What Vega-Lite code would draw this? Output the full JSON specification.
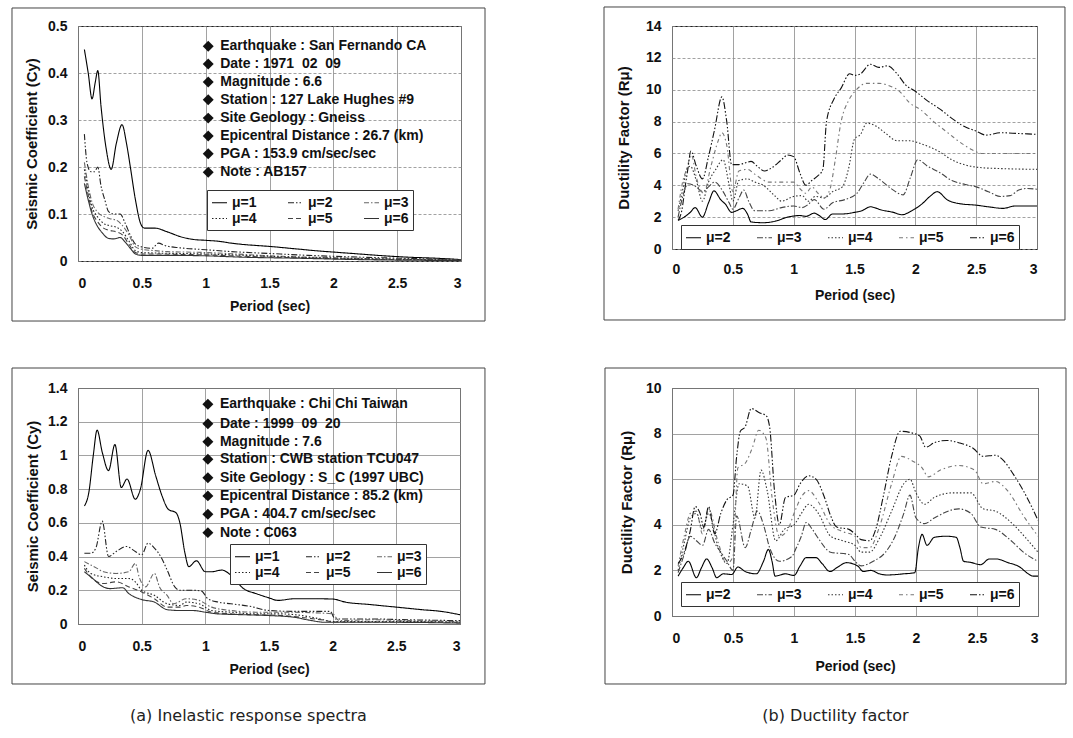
{
"$schema": "https://vega.github.io/schema/vega-lite/v6.json",
"padding": {"left": 10, "top": 5, "right": 0, "bottom": 0},
"background": "white",
"config": {
  "font": "Liberation Sans",
  "view": {"stroke": "#222", "strokeWidth": 1},
  "axis": {"domain": false, "ticks": false, "grid": true, "gridColor": "#8a8a8a", "gridWidth": 0.8, "labelOverlap": false, "tickCount": 20, "labelFont": "Liberation Sans", "labelFontWeight": "bold", "labelFontSize": 14, "labelColor": "#111", "titleFont": "Liberation Sans", "titleFontWeight": "bold", "titleColor": "#111"},
  "axisX": {"titleFontSize": 14},
  "axisY": {"titleFontSize": 15},
  "legend": {"symbolType": "stroke", "symbolSize": 225, "symbolStrokeWidth": 1.2, "labelFontSize": 14, "labelFontWeight": "bold", "labelFont": "Liberation Sans", "labelColor": "#111", "strokeColor": "#333", "fillColor": "white", "padding": 4, "rowPadding": 0, "labelOffset": 4},
  "line": {"interpolate": "monotone", "strokeWidth": 1.1}
},
"datasets": {
"p1": [
{"T":0.05,"v":0.45,"s":"μ=1"},{"T":0.08,"v":0.4,"s":"μ=1"},{"T":0.11,"v":0.345,"s":"μ=1"},{"T":0.135,"v":0.38,"s":"μ=1"},{"T":0.155,"v":0.405,"s":"μ=1"},{"T":0.18,"v":0.33,"s":"μ=1"},{"T":0.22,"v":0.24,"s":"μ=1"},{"T":0.26,"v":0.195,"s":"μ=1"},{"T":0.3,"v":0.25,"s":"μ=1"},{"T":0.345,"v":0.29,"s":"μ=1"},{"T":0.38,"v":0.25,"s":"μ=1"},{"T":0.41,"v":0.2,"s":"μ=1"},{"T":0.45,"v":0.13,"s":"μ=1"},{"T":0.49,"v":0.08,"s":"μ=1"},{"T":0.52,"v":0.07,"s":"μ=1"},{"T":0.6,"v":0.07,"s":"μ=1"},{"T":0.7,"v":0.062,"s":"μ=1"},{"T":0.8,"v":0.052,"s":"μ=1"},{"T":0.9,"v":0.046,"s":"μ=1"},{"T":1.0,"v":0.044,"s":"μ=1"},{"T":1.1,"v":0.042,"s":"μ=1"},{"T":1.2,"v":0.038,"s":"μ=1"},{"T":1.3,"v":0.035,"s":"μ=1"},{"T":1.4,"v":0.033,"s":"μ=1"},{"T":1.5,"v":0.031,"s":"μ=1"},{"T":1.7,"v":0.026,"s":"μ=1"},{"T":1.9,"v":0.021,"s":"μ=1"},{"T":2.0,"v":0.019,"s":"μ=1"},{"T":2.2,"v":0.015,"s":"μ=1"},{"T":2.4,"v":0.011,"s":"μ=1"},{"T":2.6,"v":0.008,"s":"μ=1"},{"T":2.8,"v":0.006,"s":"μ=1"},{"T":3.0,"v":0.003,"s":"μ=1"},
{"T":0.05,"v":0.27,"s":"μ=2"},{"T":0.07,"v":0.21,"s":"μ=2"},{"T":0.1,"v":0.19,"s":"μ=2"},{"T":0.13,"v":0.19,"s":"μ=2"},{"T":0.155,"v":0.2,"s":"μ=2"},{"T":0.18,"v":0.16,"s":"μ=2"},{"T":0.21,"v":0.13,"s":"μ=2"},{"T":0.24,"v":0.105,"s":"μ=2"},{"T":0.28,"v":0.1,"s":"μ=2"},{"T":0.33,"v":0.1,"s":"μ=2"},{"T":0.37,"v":0.08,"s":"μ=2"},{"T":0.41,"v":0.055,"s":"μ=2"},{"T":0.45,"v":0.036,"s":"μ=2"},{"T":0.5,"v":0.03,"s":"μ=2"},{"T":0.58,"v":0.027,"s":"μ=2"},{"T":0.63,"v":0.038,"s":"μ=2"},{"T":0.68,"v":0.033,"s":"μ=2"},{"T":0.8,"v":0.028,"s":"μ=2"},{"T":1.0,"v":0.024,"s":"μ=2"},{"T":1.2,"v":0.02,"s":"μ=2"},{"T":1.5,"v":0.016,"s":"μ=2"},{"T":1.8,"v":0.012,"s":"μ=2"},{"T":2.0,"v":0.01,"s":"μ=2"},{"T":2.5,"v":0.006,"s":"μ=2"},{"T":3.0,"v":0.003,"s":"μ=2"},
{"T":0.05,"v":0.21,"s":"μ=3"},{"T":0.08,"v":0.16,"s":"μ=3"},{"T":0.11,"v":0.125,"s":"μ=3"},{"T":0.15,"v":0.105,"s":"μ=3"},{"T":0.2,"v":0.095,"s":"μ=3"},{"T":0.25,"v":0.09,"s":"μ=3"},{"T":0.3,"v":0.087,"s":"μ=3"},{"T":0.35,"v":0.075,"s":"μ=3"},{"T":0.4,"v":0.055,"s":"μ=3"},{"T":0.45,"v":0.03,"s":"μ=3"},{"T":0.5,"v":0.025,"s":"μ=3"},{"T":0.6,"v":0.022,"s":"μ=3"},{"T":0.7,"v":0.02,"s":"μ=3"},{"T":0.85,"v":0.019,"s":"μ=3"},{"T":1.0,"v":0.018,"s":"μ=3"},{"T":1.3,"v":0.014,"s":"μ=3"},{"T":1.6,"v":0.01,"s":"μ=3"},{"T":2.0,"v":0.007,"s":"μ=3"},{"T":2.5,"v":0.004,"s":"μ=3"},{"T":3.0,"v":0.002,"s":"μ=3"},
{"T":0.05,"v":0.195,"s":"μ=4"},{"T":0.08,"v":0.15,"s":"μ=4"},{"T":0.11,"v":0.115,"s":"μ=4"},{"T":0.15,"v":0.095,"s":"μ=4"},{"T":0.2,"v":0.08,"s":"μ=4"},{"T":0.25,"v":0.075,"s":"μ=4"},{"T":0.3,"v":0.072,"s":"μ=4"},{"T":0.35,"v":0.062,"s":"μ=4"},{"T":0.4,"v":0.042,"s":"μ=4"},{"T":0.45,"v":0.022,"s":"μ=4"},{"T":0.5,"v":0.018,"s":"μ=4"},{"T":0.6,"v":0.017,"s":"μ=4"},{"T":0.8,"v":0.016,"s":"μ=4"},{"T":1.0,"v":0.015,"s":"μ=4"},{"T":1.3,"v":0.012,"s":"μ=4"},{"T":1.7,"v":0.008,"s":"μ=4"},{"T":2.2,"v":0.005,"s":"μ=4"},{"T":3.0,"v":0.002,"s":"μ=4"},
{"T":0.05,"v":0.18,"s":"μ=5"},{"T":0.08,"v":0.14,"s":"μ=5"},{"T":0.11,"v":0.105,"s":"μ=5"},{"T":0.15,"v":0.085,"s":"μ=5"},{"T":0.2,"v":0.07,"s":"μ=5"},{"T":0.25,"v":0.065,"s":"μ=5"},{"T":0.3,"v":0.062,"s":"μ=5"},{"T":0.35,"v":0.055,"s":"μ=5"},{"T":0.4,"v":0.035,"s":"μ=5"},{"T":0.45,"v":0.018,"s":"μ=5"},{"T":0.5,"v":0.015,"s":"μ=5"},{"T":0.6,"v":0.015,"s":"μ=5"},{"T":0.8,"v":0.014,"s":"μ=5"},{"T":1.0,"v":0.013,"s":"μ=5"},{"T":1.3,"v":0.01,"s":"μ=5"},{"T":1.7,"v":0.007,"s":"μ=5"},{"T":2.2,"v":0.004,"s":"μ=5"},{"T":3.0,"v":0.002,"s":"μ=5"},
{"T":0.05,"v":0.165,"s":"μ=6"},{"T":0.08,"v":0.13,"s":"μ=6"},{"T":0.11,"v":0.1,"s":"μ=6"},{"T":0.15,"v":0.075,"s":"μ=6"},{"T":0.19,"v":0.06,"s":"μ=6"},{"T":0.24,"v":0.048,"s":"μ=6"},{"T":0.28,"v":0.047,"s":"μ=6"},{"T":0.33,"v":0.05,"s":"μ=6"},{"T":0.37,"v":0.04,"s":"μ=6"},{"T":0.41,"v":0.027,"s":"μ=6"},{"T":0.45,"v":0.015,"s":"μ=6"},{"T":0.5,"v":0.012,"s":"μ=6"},{"T":0.7,"v":0.012,"s":"μ=6"},{"T":1.0,"v":0.011,"s":"μ=6"},{"T":1.3,"v":0.008,"s":"μ=6"},{"T":1.7,"v":0.006,"s":"μ=6"},{"T":2.2,"v":0.003,"s":"μ=6"},{"T":3.0,"v":0.001,"s":"μ=6"}
],
"p2": [
{"T":0.05,"v":1.8,"s":"μ=2"},{"T":0.1,"v":2.0,"s":"μ=2"},{"T":0.15,"v":2.3,"s":"μ=2"},{"T":0.19,"v":2.6,"s":"μ=2"},{"T":0.25,"v":2.0,"s":"μ=2"},{"T":0.3,"v":2.9,"s":"μ=2"},{"T":0.345,"v":3.65,"s":"μ=2"},{"T":0.4,"v":3.1,"s":"μ=2"},{"T":0.44,"v":2.8,"s":"μ=2"},{"T":0.49,"v":2.3,"s":"μ=2"},{"T":0.53,"v":2.4,"s":"μ=2"},{"T":0.58,"v":2.55,"s":"μ=2"},{"T":0.62,"v":2.2,"s":"μ=2"},{"T":0.65,"v":1.7,"s":"μ=2"},{"T":0.75,"v":1.65,"s":"μ=2"},{"T":0.85,"v":1.75,"s":"μ=2"},{"T":0.95,"v":2.0,"s":"μ=2"},{"T":1.05,"v":2.1,"s":"μ=2"},{"T":1.1,"v":2.05,"s":"μ=2"},{"T":1.17,"v":2.25,"s":"μ=2"},{"T":1.21,"v":2.1,"s":"μ=2"},{"T":1.26,"v":1.85,"s":"μ=2"},{"T":1.32,"v":2.2,"s":"μ=2"},{"T":1.4,"v":2.2,"s":"μ=2"},{"T":1.5,"v":2.3,"s":"μ=2"},{"T":1.56,"v":2.4,"s":"μ=2"},{"T":1.63,"v":2.65,"s":"μ=2"},{"T":1.72,"v":2.45,"s":"μ=2"},{"T":1.82,"v":2.3,"s":"μ=2"},{"T":1.89,"v":2.15,"s":"μ=2"},{"T":1.97,"v":2.4,"s":"μ=2"},{"T":2.05,"v":2.8,"s":"μ=2"},{"T":2.12,"v":3.3,"s":"μ=2"},{"T":2.18,"v":3.6,"s":"μ=2"},{"T":2.26,"v":3.1,"s":"μ=2"},{"T":2.36,"v":2.85,"s":"μ=2"},{"T":2.5,"v":2.75,"s":"μ=2"},{"T":2.6,"v":2.65,"s":"μ=2"},{"T":2.72,"v":2.55,"s":"μ=2"},{"T":2.82,"v":2.7,"s":"μ=2"},{"T":3.0,"v":2.7,"s":"μ=2"},
{"T":0.05,"v":2.0,"s":"μ=3"},{"T":0.1,"v":3.6,"s":"μ=3"},{"T":0.13,"v":4.1,"s":"μ=3"},{"T":0.2,"v":3.9,"s":"μ=3"},{"T":0.25,"v":3.6,"s":"μ=3"},{"T":0.3,"v":3.9,"s":"μ=3"},{"T":0.35,"v":4.2,"s":"μ=3"},{"T":0.42,"v":3.6,"s":"μ=3"},{"T":0.47,"v":2.9,"s":"μ=3"},{"T":0.5,"v":2.5,"s":"μ=3"},{"T":0.55,"v":3.2,"s":"μ=3"},{"T":0.59,"v":3.7,"s":"μ=3"},{"T":0.63,"v":3.0,"s":"μ=3"},{"T":0.68,"v":2.4,"s":"μ=3"},{"T":0.8,"v":2.4,"s":"μ=3"},{"T":0.9,"v":2.6,"s":"μ=3"},{"T":1.0,"v":2.7,"s":"μ=3"},{"T":1.07,"v":2.6,"s":"μ=3"},{"T":1.12,"v":2.8,"s":"μ=3"},{"T":1.17,"v":3.1,"s":"μ=3"},{"T":1.25,"v":2.5,"s":"μ=3"},{"T":1.32,"v":2.9,"s":"μ=3"},{"T":1.42,"v":3.1,"s":"μ=3"},{"T":1.52,"v":3.5,"s":"μ=3"},{"T":1.58,"v":4.2,"s":"μ=3"},{"T":1.63,"v":4.7,"s":"μ=3"},{"T":1.7,"v":4.4,"s":"μ=3"},{"T":1.8,"v":3.8,"s":"μ=3"},{"T":1.9,"v":3.4,"s":"μ=3"},{"T":1.96,"v":4.5,"s":"μ=3"},{"T":2.02,"v":5.6,"s":"μ=3"},{"T":2.1,"v":5.2,"s":"μ=3"},{"T":2.2,"v":4.8,"s":"μ=3"},{"T":2.3,"v":4.3,"s":"μ=3"},{"T":2.41,"v":4.05,"s":"μ=3"},{"T":2.5,"v":3.9,"s":"μ=3"},{"T":2.6,"v":3.6,"s":"μ=3"},{"T":2.7,"v":3.3,"s":"μ=3"},{"T":2.78,"v":3.35,"s":"μ=3"},{"T":2.85,"v":3.7,"s":"μ=3"},{"T":2.92,"v":3.8,"s":"μ=3"},{"T":3.0,"v":3.75,"s":"μ=3"},
{"T":0.05,"v":2.4,"s":"μ=4"},{"T":0.09,"v":3.8,"s":"μ=4"},{"T":0.12,"v":5.0,"s":"μ=4"},{"T":0.15,"v":5.2,"s":"μ=4"},{"T":0.2,"v":4.3,"s":"μ=4"},{"T":0.25,"v":3.0,"s":"μ=4"},{"T":0.3,"v":4.2,"s":"μ=4"},{"T":0.36,"v":5.0,"s":"μ=4"},{"T":0.42,"v":5.6,"s":"μ=4"},{"T":0.47,"v":4.0,"s":"μ=4"},{"T":0.5,"v":3.0,"s":"μ=4"},{"T":0.55,"v":4.3,"s":"μ=4"},{"T":0.62,"v":4.4,"s":"μ=4"},{"T":0.68,"v":4.2,"s":"μ=4"},{"T":0.75,"v":4.0,"s":"μ=4"},{"T":0.85,"v":3.3,"s":"μ=4"},{"T":0.9,"v":3.0,"s":"μ=4"},{"T":1.0,"v":3.3,"s":"μ=4"},{"T":1.07,"v":3.35,"s":"μ=4"},{"T":1.12,"v":3.0,"s":"μ=4"},{"T":1.18,"v":3.3,"s":"μ=4"},{"T":1.25,"v":3.2,"s":"μ=4"},{"T":1.32,"v":3.6,"s":"μ=4"},{"T":1.4,"v":3.9,"s":"μ=4"},{"T":1.45,"v":5.0,"s":"μ=4"},{"T":1.5,"v":6.9,"s":"μ=4"},{"T":1.55,"v":7.2,"s":"μ=4"},{"T":1.6,"v":7.9,"s":"μ=4"},{"T":1.68,"v":7.7,"s":"μ=4"},{"T":1.75,"v":7.3,"s":"μ=4"},{"T":1.85,"v":6.8,"s":"μ=4"},{"T":1.95,"v":6.8,"s":"μ=4"},{"T":2.05,"v":6.6,"s":"μ=4"},{"T":2.2,"v":6.1,"s":"μ=4"},{"T":2.3,"v":5.6,"s":"μ=4"},{"T":2.4,"v":5.3,"s":"μ=4"},{"T":2.55,"v":5.1,"s":"μ=4"},{"T":2.7,"v":5.05,"s":"μ=4"},{"T":3.0,"v":5.0,"s":"μ=4"},
{"T":0.05,"v":2.5,"s":"μ=5"},{"T":0.09,"v":4.3,"s":"μ=5"},{"T":0.12,"v":5.0,"s":"μ=5"},{"T":0.16,"v":5.9,"s":"μ=5"},{"T":0.2,"v":4.5,"s":"μ=5"},{"T":0.26,"v":3.5,"s":"μ=5"},{"T":0.32,"v":5.2,"s":"μ=5"},{"T":0.38,"v":6.8,"s":"μ=5"},{"T":0.41,"v":7.3,"s":"μ=5"},{"T":0.45,"v":6.5,"s":"μ=5"},{"T":0.5,"v":3.6,"s":"μ=5"},{"T":0.55,"v":4.9,"s":"μ=5"},{"T":0.62,"v":5.0,"s":"μ=5"},{"T":0.68,"v":4.7,"s":"μ=5"},{"T":0.8,"v":4.2,"s":"μ=5"},{"T":0.9,"v":4.2,"s":"μ=5"},{"T":1.0,"v":4.2,"s":"μ=5"},{"T":1.05,"v":3.8,"s":"μ=5"},{"T":1.1,"v":3.5,"s":"μ=5"},{"T":1.15,"v":3.9,"s":"μ=5"},{"T":1.2,"v":3.5,"s":"μ=5"},{"T":1.25,"v":3.2,"s":"μ=5"},{"T":1.3,"v":3.8,"s":"μ=5"},{"T":1.34,"v":5.5,"s":"μ=5"},{"T":1.39,"v":8.0,"s":"μ=5"},{"T":1.45,"v":9.3,"s":"μ=5"},{"T":1.51,"v":9.95,"s":"μ=5"},{"T":1.6,"v":10.4,"s":"μ=5"},{"T":1.7,"v":10.4,"s":"μ=5"},{"T":1.8,"v":10.2,"s":"μ=5"},{"T":1.87,"v":9.9,"s":"μ=5"},{"T":1.95,"v":9.2,"s":"μ=5"},{"T":2.05,"v":8.7,"s":"μ=5"},{"T":2.15,"v":8.0,"s":"μ=5"},{"T":2.25,"v":7.4,"s":"μ=5"},{"T":2.35,"v":6.8,"s":"μ=5"},{"T":2.45,"v":6.3,"s":"μ=5"},{"T":2.55,"v":6.0,"s":"μ=5"},{"T":2.7,"v":6.0,"s":"μ=5"},{"T":3.0,"v":6.0,"s":"μ=5"},
{"T":0.05,"v":1.8,"s":"μ=6"},{"T":0.08,"v":2.4,"s":"μ=6"},{"T":0.11,"v":4.0,"s":"μ=6"},{"T":0.13,"v":5.0,"s":"μ=6"},{"T":0.155,"v":6.15,"s":"μ=6"},{"T":0.2,"v":5.2,"s":"μ=6"},{"T":0.25,"v":4.4,"s":"μ=6"},{"T":0.3,"v":5.8,"s":"μ=6"},{"T":0.35,"v":7.5,"s":"μ=6"},{"T":0.41,"v":9.55,"s":"μ=6"},{"T":0.45,"v":8.0,"s":"μ=6"},{"T":0.49,"v":5.3,"s":"μ=6"},{"T":0.55,"v":5.3,"s":"μ=6"},{"T":0.6,"v":5.4,"s":"μ=6"},{"T":0.65,"v":5.5,"s":"μ=6"},{"T":0.7,"v":5.2,"s":"μ=6"},{"T":0.76,"v":4.9,"s":"μ=6"},{"T":0.82,"v":5.1,"s":"μ=6"},{"T":0.9,"v":5.6,"s":"μ=6"},{"T":0.95,"v":5.9,"s":"μ=6"},{"T":1.0,"v":5.8,"s":"μ=6"},{"T":1.05,"v":4.8,"s":"μ=6"},{"T":1.1,"v":4.0,"s":"μ=6"},{"T":1.15,"v":4.3,"s":"μ=6"},{"T":1.2,"v":4.6,"s":"μ=6"},{"T":1.24,"v":5.0,"s":"μ=6"},{"T":1.27,"v":8.0,"s":"μ=6"},{"T":1.33,"v":9.4,"s":"μ=6"},{"T":1.39,"v":10.1,"s":"μ=6"},{"T":1.46,"v":11.0,"s":"μ=6"},{"T":1.5,"v":10.9,"s":"μ=6"},{"T":1.55,"v":11.0,"s":"μ=6"},{"T":1.63,"v":11.6,"s":"μ=6"},{"T":1.7,"v":11.4,"s":"μ=6"},{"T":1.77,"v":11.5,"s":"μ=6"},{"T":1.85,"v":11.0,"s":"μ=6"},{"T":1.92,"v":10.3,"s":"μ=6"},{"T":2.0,"v":9.9,"s":"μ=6"},{"T":2.1,"v":9.3,"s":"μ=6"},{"T":2.2,"v":8.8,"s":"μ=6"},{"T":2.3,"v":8.2,"s":"μ=6"},{"T":2.4,"v":7.7,"s":"μ=6"},{"T":2.5,"v":7.4,"s":"μ=6"},{"T":2.58,"v":7.15,"s":"μ=6"},{"T":2.7,"v":7.3,"s":"μ=6"},{"T":2.85,"v":7.25,"s":"μ=6"},{"T":3.0,"v":7.2,"s":"μ=6"}
],
"p3": [
{"T":0.05,"v":0.7,"s":"μ=1"},{"T":0.085,"v":0.78,"s":"μ=1"},{"T":0.12,"v":1.0,"s":"μ=1"},{"T":0.15,"v":1.15,"s":"μ=1"},{"T":0.19,"v":1.02,"s":"μ=1"},{"T":0.24,"v":0.91,"s":"μ=1"},{"T":0.29,"v":1.065,"s":"μ=1"},{"T":0.34,"v":0.81,"s":"μ=1"},{"T":0.385,"v":0.86,"s":"μ=1"},{"T":0.45,"v":0.74,"s":"μ=1"},{"T":0.49,"v":0.8,"s":"μ=1"},{"T":0.55,"v":1.03,"s":"μ=1"},{"T":0.61,"v":0.88,"s":"μ=1"},{"T":0.66,"v":0.76,"s":"μ=1"},{"T":0.71,"v":0.68,"s":"μ=1"},{"T":0.77,"v":0.66,"s":"μ=1"},{"T":0.8,"v":0.6,"s":"μ=1"},{"T":0.84,"v":0.42,"s":"μ=1"},{"T":0.87,"v":0.34,"s":"μ=1"},{"T":0.93,"v":0.375,"s":"μ=1"},{"T":1.0,"v":0.31,"s":"μ=1"},{"T":1.05,"v":0.31,"s":"μ=1"},{"T":1.13,"v":0.32,"s":"μ=1"},{"T":1.2,"v":0.29,"s":"μ=1"},{"T":1.3,"v":0.21,"s":"μ=1"},{"T":1.4,"v":0.18,"s":"μ=1"},{"T":1.5,"v":0.155,"s":"μ=1"},{"T":1.57,"v":0.14,"s":"μ=1"},{"T":1.7,"v":0.15,"s":"μ=1"},{"T":1.85,"v":0.15,"s":"μ=1"},{"T":2.0,"v":0.148,"s":"μ=1"},{"T":2.1,"v":0.13,"s":"μ=1"},{"T":2.3,"v":0.115,"s":"μ=1"},{"T":2.5,"v":0.1,"s":"μ=1"},{"T":2.7,"v":0.085,"s":"μ=1"},{"T":2.85,"v":0.075,"s":"μ=1"},{"T":3.0,"v":0.055,"s":"μ=1"},
{"T":0.05,"v":0.42,"s":"μ=2"},{"T":0.1,"v":0.42,"s":"μ=2"},{"T":0.14,"v":0.45,"s":"μ=2"},{"T":0.19,"v":0.61,"s":"μ=2"},{"T":0.24,"v":0.4,"s":"μ=2"},{"T":0.3,"v":0.43,"s":"μ=2"},{"T":0.38,"v":0.46,"s":"μ=2"},{"T":0.45,"v":0.43,"s":"μ=2"},{"T":0.5,"v":0.41,"s":"μ=2"},{"T":0.55,"v":0.48,"s":"μ=2"},{"T":0.6,"v":0.45,"s":"μ=2"},{"T":0.65,"v":0.4,"s":"μ=2"},{"T":0.7,"v":0.32,"s":"μ=2"},{"T":0.76,"v":0.22,"s":"μ=2"},{"T":0.8,"v":0.2,"s":"μ=2"},{"T":0.9,"v":0.2,"s":"μ=2"},{"T":0.97,"v":0.195,"s":"μ=2"},{"T":1.02,"v":0.15,"s":"μ=2"},{"T":1.1,"v":0.13,"s":"μ=2"},{"T":1.2,"v":0.12,"s":"μ=2"},{"T":1.35,"v":0.105,"s":"μ=2"},{"T":1.5,"v":0.08,"s":"μ=2"},{"T":1.7,"v":0.075,"s":"μ=2"},{"T":1.98,"v":0.075,"s":"μ=2"},{"T":2.02,"v":0.03,"s":"μ=2"},{"T":2.3,"v":0.03,"s":"μ=2"},{"T":2.6,"v":0.025,"s":"μ=2"},{"T":3.0,"v":0.02,"s":"μ=2"},
{"T":0.05,"v":0.37,"s":"μ=3"},{"T":0.1,"v":0.35,"s":"μ=3"},{"T":0.15,"v":0.33,"s":"μ=3"},{"T":0.2,"v":0.31,"s":"μ=3"},{"T":0.3,"v":0.3,"s":"μ=3"},{"T":0.4,"v":0.31,"s":"μ=3"},{"T":0.45,"v":0.36,"s":"μ=3"},{"T":0.48,"v":0.28,"s":"μ=3"},{"T":0.53,"v":0.22,"s":"μ=3"},{"T":0.6,"v":0.3,"s":"μ=3"},{"T":0.64,"v":0.22,"s":"μ=3"},{"T":0.7,"v":0.17,"s":"μ=3"},{"T":0.75,"v":0.12,"s":"μ=3"},{"T":0.85,"v":0.15,"s":"μ=3"},{"T":0.95,"v":0.14,"s":"μ=3"},{"T":1.05,"v":0.1,"s":"μ=3"},{"T":1.2,"v":0.08,"s":"μ=3"},{"T":1.4,"v":0.07,"s":"μ=3"},{"T":1.6,"v":0.07,"s":"μ=3"},{"T":1.9,"v":0.065,"s":"μ=3"},{"T":2.0,"v":0.06,"s":"μ=3"},{"T":2.05,"v":0.02,"s":"μ=3"},{"T":2.3,"v":0.025,"s":"μ=3"},{"T":2.6,"v":0.02,"s":"μ=3"},{"T":3.0,"v":0.015,"s":"μ=3"},
{"T":0.05,"v":0.35,"s":"μ=4"},{"T":0.1,"v":0.3,"s":"μ=4"},{"T":0.2,"v":0.28,"s":"μ=4"},{"T":0.3,"v":0.27,"s":"μ=4"},{"T":0.4,"v":0.27,"s":"μ=4"},{"T":0.45,"v":0.25,"s":"μ=4"},{"T":0.5,"v":0.2,"s":"μ=4"},{"T":0.6,"v":0.17,"s":"μ=4"},{"T":0.7,"v":0.12,"s":"μ=4"},{"T":0.8,"v":0.11,"s":"μ=4"},{"T":0.85,"v":0.13,"s":"μ=4"},{"T":0.95,"v":0.12,"s":"μ=4"},{"T":1.05,"v":0.08,"s":"μ=4"},{"T":1.2,"v":0.07,"s":"μ=4"},{"T":1.4,"v":0.06,"s":"μ=4"},{"T":1.6,"v":0.06,"s":"μ=4"},{"T":1.8,"v":0.045,"s":"μ=4"},{"T":1.9,"v":0.03,"s":"μ=4"},{"T":2.0,"v":0.015,"s":"μ=4"},{"T":2.5,"v":0.015,"s":"μ=4"},{"T":3.0,"v":0.01,"s":"μ=4"},
{"T":0.05,"v":0.33,"s":"μ=5"},{"T":0.1,"v":0.28,"s":"μ=5"},{"T":0.2,"v":0.24,"s":"μ=5"},{"T":0.3,"v":0.25,"s":"μ=5"},{"T":0.4,"v":0.22,"s":"μ=5"},{"T":0.5,"v":0.19,"s":"μ=5"},{"T":0.6,"v":0.15,"s":"μ=5"},{"T":0.7,"v":0.1,"s":"μ=5"},{"T":0.8,"v":0.1,"s":"μ=5"},{"T":0.85,"v":0.11,"s":"μ=5"},{"T":0.95,"v":0.1,"s":"μ=5"},{"T":1.05,"v":0.07,"s":"μ=5"},{"T":1.2,"v":0.06,"s":"μ=5"},{"T":1.4,"v":0.055,"s":"μ=5"},{"T":1.6,"v":0.05,"s":"μ=5"},{"T":1.8,"v":0.035,"s":"μ=5"},{"T":1.95,"v":0.02,"s":"μ=5"},{"T":2.0,"v":0.012,"s":"μ=5"},{"T":2.5,"v":0.012,"s":"μ=5"},{"T":3.0,"v":0.01,"s":"μ=5"},
{"T":0.05,"v":0.31,"s":"μ=6"},{"T":0.1,"v":0.28,"s":"μ=6"},{"T":0.2,"v":0.22,"s":"μ=6"},{"T":0.25,"v":0.21,"s":"μ=6"},{"T":0.35,"v":0.215,"s":"μ=6"},{"T":0.4,"v":0.18,"s":"μ=6"},{"T":0.5,"v":0.145,"s":"μ=6"},{"T":0.6,"v":0.13,"s":"μ=6"},{"T":0.7,"v":0.085,"s":"μ=6"},{"T":0.8,"v":0.08,"s":"μ=6"},{"T":0.9,"v":0.08,"s":"μ=6"},{"T":1.0,"v":0.07,"s":"μ=6"},{"T":1.1,"v":0.06,"s":"μ=6"},{"T":1.3,"v":0.055,"s":"μ=6"},{"T":1.5,"v":0.05,"s":"μ=6"},{"T":1.7,"v":0.04,"s":"μ=6"},{"T":1.8,"v":0.025,"s":"μ=6"},{"T":1.95,"v":0.01,"s":"μ=6"},{"T":2.5,"v":0.01,"s":"μ=6"},{"T":3.0,"v":0.005,"s":"μ=6"}
],
"p4": [
{"T":0.05,"v":1.75,"s":"μ=2"},{"T":0.09,"v":2.1,"s":"μ=2"},{"T":0.134,"v":2.4,"s":"μ=2"},{"T":0.2,"v":1.68,"s":"μ=2"},{"T":0.24,"v":2.1,"s":"μ=2"},{"T":0.284,"v":2.5,"s":"μ=2"},{"T":0.33,"v":2.1,"s":"μ=2"},{"T":0.366,"v":1.68,"s":"μ=2"},{"T":0.42,"v":1.85,"s":"μ=2"},{"T":0.49,"v":1.82,"s":"μ=2"},{"T":0.54,"v":2.15,"s":"μ=2"},{"T":0.6,"v":1.95,"s":"μ=2"},{"T":0.69,"v":1.85,"s":"μ=2"},{"T":0.75,"v":2.4,"s":"μ=2"},{"T":0.79,"v":2.92,"s":"μ=2"},{"T":0.82,"v":2.4,"s":"μ=2"},{"T":0.845,"v":1.75,"s":"μ=2"},{"T":0.93,"v":1.85,"s":"μ=2"},{"T":1.0,"v":1.78,"s":"μ=2"},{"T":1.05,"v":2.2,"s":"μ=2"},{"T":1.1,"v":2.56,"s":"μ=2"},{"T":1.18,"v":2.56,"s":"μ=2"},{"T":1.23,"v":2.3,"s":"μ=2"},{"T":1.295,"v":1.95,"s":"μ=2"},{"T":1.36,"v":2.15,"s":"μ=2"},{"T":1.43,"v":2.34,"s":"μ=2"},{"T":1.52,"v":2.2,"s":"μ=2"},{"T":1.57,"v":1.95,"s":"μ=2"},{"T":1.63,"v":2.0,"s":"μ=2"},{"T":1.7,"v":1.85,"s":"μ=2"},{"T":1.76,"v":1.8,"s":"μ=2"},{"T":1.9,"v":1.85,"s":"μ=2"},{"T":1.99,"v":1.9,"s":"μ=2"},{"T":2.02,"v":3.0,"s":"μ=2"},{"T":2.05,"v":3.58,"s":"μ=2"},{"T":2.09,"v":3.1,"s":"μ=2"},{"T":2.15,"v":3.45,"s":"μ=2"},{"T":2.25,"v":3.5,"s":"μ=2"},{"T":2.33,"v":3.45,"s":"μ=2"},{"T":2.36,"v":3.0,"s":"μ=2"},{"T":2.39,"v":2.4,"s":"μ=2"},{"T":2.45,"v":2.35,"s":"μ=2"},{"T":2.53,"v":2.25,"s":"μ=2"},{"T":2.6,"v":2.5,"s":"μ=2"},{"T":2.66,"v":2.5,"s":"μ=2"},{"T":2.75,"v":2.35,"s":"μ=2"},{"T":2.85,"v":2.15,"s":"μ=2"},{"T":2.92,"v":1.85,"s":"μ=2"},{"T":2.96,"v":1.75,"s":"μ=2"},{"T":3.0,"v":1.75,"s":"μ=2"},
{"T":0.05,"v":1.9,"s":"μ=3"},{"T":0.1,"v":2.7,"s":"μ=3"},{"T":0.15,"v":3.5,"s":"μ=3"},{"T":0.2,"v":3.3,"s":"μ=3"},{"T":0.25,"v":3.1,"s":"μ=3"},{"T":0.3,"v":3.8,"s":"μ=3"},{"T":0.35,"v":3.2,"s":"μ=3"},{"T":0.4,"v":2.8,"s":"μ=3"},{"T":0.45,"v":2.4,"s":"μ=3"},{"T":0.5,"v":2.0,"s":"μ=3"},{"T":0.53,"v":4.4,"s":"μ=3"},{"T":0.6,"v":3.0,"s":"μ=3"},{"T":0.65,"v":3.8,"s":"μ=3"},{"T":0.7,"v":4.6,"s":"μ=3"},{"T":0.75,"v":4.0,"s":"μ=3"},{"T":0.8,"v":3.0,"s":"μ=3"},{"T":0.88,"v":2.4,"s":"μ=3"},{"T":0.98,"v":2.6,"s":"μ=3"},{"T":1.02,"v":3.0,"s":"μ=3"},{"T":1.06,"v":3.5,"s":"μ=3"},{"T":1.1,"v":4.1,"s":"μ=3"},{"T":1.15,"v":3.8,"s":"μ=3"},{"T":1.2,"v":3.4,"s":"μ=3"},{"T":1.3,"v":2.8,"s":"μ=3"},{"T":1.45,"v":2.7,"s":"μ=3"},{"T":1.5,"v":2.4,"s":"μ=3"},{"T":1.55,"v":2.2,"s":"μ=3"},{"T":1.65,"v":2.4,"s":"μ=3"},{"T":1.75,"v":2.8,"s":"μ=3"},{"T":1.82,"v":3.4,"s":"μ=3"},{"T":1.9,"v":4.5,"s":"μ=3"},{"T":1.95,"v":5.3,"s":"μ=3"},{"T":2.0,"v":4.3,"s":"μ=3"},{"T":2.07,"v":4.05,"s":"μ=3"},{"T":2.15,"v":4.3,"s":"μ=3"},{"T":2.35,"v":4.7,"s":"μ=3"},{"T":2.45,"v":4.5,"s":"μ=3"},{"T":2.53,"v":3.9,"s":"μ=3"},{"T":2.65,"v":3.8,"s":"μ=3"},{"T":2.78,"v":3.3,"s":"μ=3"},{"T":2.88,"v":2.8,"s":"μ=3"},{"T":3.0,"v":2.4,"s":"μ=3"},
{"T":0.05,"v":2.0,"s":"μ=4"},{"T":0.1,"v":3.2,"s":"μ=4"},{"T":0.15,"v":4.3,"s":"μ=4"},{"T":0.2,"v":4.5,"s":"μ=4"},{"T":0.25,"v":3.8,"s":"μ=4"},{"T":0.3,"v":4.5,"s":"μ=4"},{"T":0.38,"v":3.0,"s":"μ=4"},{"T":0.45,"v":2.3,"s":"μ=4"},{"T":0.5,"v":4.0,"s":"μ=4"},{"T":0.55,"v":5.8,"s":"μ=4"},{"T":0.62,"v":5.7,"s":"μ=4"},{"T":0.68,"v":4.3,"s":"μ=4"},{"T":0.73,"v":6.4,"s":"μ=4"},{"T":0.78,"v":5.5,"s":"μ=4"},{"T":0.85,"v":3.3,"s":"μ=4"},{"T":0.92,"v":3.8,"s":"μ=4"},{"T":1.0,"v":4.0,"s":"μ=4"},{"T":1.06,"v":4.5,"s":"μ=4"},{"T":1.12,"v":4.9,"s":"μ=4"},{"T":1.2,"v":4.5,"s":"μ=4"},{"T":1.3,"v":3.5,"s":"μ=4"},{"T":1.4,"v":3.3,"s":"μ=4"},{"T":1.5,"v":3.1,"s":"μ=4"},{"T":1.55,"v":2.8,"s":"μ=4"},{"T":1.62,"v":2.8,"s":"μ=4"},{"T":1.7,"v":3.4,"s":"μ=4"},{"T":1.8,"v":4.6,"s":"μ=4"},{"T":1.9,"v":5.8,"s":"μ=4"},{"T":1.95,"v":6.0,"s":"μ=4"},{"T":2.0,"v":5.4,"s":"μ=4"},{"T":2.07,"v":4.9,"s":"μ=4"},{"T":2.15,"v":5.2,"s":"μ=4"},{"T":2.3,"v":5.4,"s":"μ=4"},{"T":2.45,"v":5.4,"s":"μ=4"},{"T":2.55,"v":4.7,"s":"μ=4"},{"T":2.65,"v":4.6,"s":"μ=4"},{"T":2.8,"v":4.0,"s":"μ=4"},{"T":2.92,"v":3.3,"s":"μ=4"},{"T":3.0,"v":2.8,"s":"μ=4"},
{"T":0.05,"v":2.2,"s":"μ=5"},{"T":0.1,"v":3.5,"s":"μ=5"},{"T":0.15,"v":4.5,"s":"μ=5"},{"T":0.2,"v":4.6,"s":"μ=5"},{"T":0.25,"v":3.6,"s":"μ=5"},{"T":0.3,"v":4.7,"s":"μ=5"},{"T":0.38,"v":3.2,"s":"μ=5"},{"T":0.45,"v":2.3,"s":"μ=5"},{"T":0.5,"v":2.6,"s":"μ=5"},{"T":0.54,"v":6.5,"s":"μ=5"},{"T":0.6,"v":6.7,"s":"μ=5"},{"T":0.66,"v":7.4,"s":"μ=5"},{"T":0.71,"v":8.15,"s":"μ=5"},{"T":0.77,"v":7.8,"s":"μ=5"},{"T":0.82,"v":5.2,"s":"μ=5"},{"T":0.88,"v":3.5,"s":"μ=5"},{"T":0.95,"v":3.8,"s":"μ=5"},{"T":1.0,"v":4.5,"s":"μ=5"},{"T":1.07,"v":5.3,"s":"μ=5"},{"T":1.12,"v":5.5,"s":"μ=5"},{"T":1.2,"v":5.0,"s":"μ=5"},{"T":1.3,"v":4.0,"s":"μ=5"},{"T":1.4,"v":3.7,"s":"μ=5"},{"T":1.5,"v":3.5,"s":"μ=5"},{"T":1.55,"v":3.0,"s":"μ=5"},{"T":1.62,"v":3.0,"s":"μ=5"},{"T":1.7,"v":3.9,"s":"μ=5"},{"T":1.8,"v":5.8,"s":"μ=5"},{"T":1.88,"v":7.0,"s":"μ=5"},{"T":1.97,"v":6.8,"s":"μ=5"},{"T":2.05,"v":6.5,"s":"μ=5"},{"T":2.1,"v":6.1,"s":"μ=5"},{"T":2.2,"v":6.4,"s":"μ=5"},{"T":2.35,"v":6.6,"s":"μ=5"},{"T":2.48,"v":6.4,"s":"μ=5"},{"T":2.55,"v":5.8,"s":"μ=5"},{"T":2.65,"v":5.9,"s":"μ=5"},{"T":2.75,"v":5.5,"s":"μ=5"},{"T":2.88,"v":4.4,"s":"μ=5"},{"T":3.0,"v":3.5,"s":"μ=5"},
{"T":0.05,"v":2.3,"s":"μ=6"},{"T":0.1,"v":2.8,"s":"μ=6"},{"T":0.148,"v":3.7,"s":"μ=6"},{"T":0.19,"v":4.8,"s":"μ=6"},{"T":0.23,"v":4.5,"s":"μ=6"},{"T":0.26,"v":3.9,"s":"μ=6"},{"T":0.3,"v":4.8,"s":"μ=6"},{"T":0.35,"v":3.6,"s":"μ=6"},{"T":0.4,"v":4.5,"s":"μ=6"},{"T":0.45,"v":5.1,"s":"μ=6"},{"T":0.5,"v":5.3,"s":"μ=6"},{"T":0.53,"v":7.0,"s":"μ=6"},{"T":0.56,"v":8.1,"s":"μ=6"},{"T":0.6,"v":8.3,"s":"μ=6"},{"T":0.65,"v":9.1,"s":"μ=6"},{"T":0.72,"v":8.9,"s":"μ=6"},{"T":0.77,"v":8.8,"s":"μ=6"},{"T":0.8,"v":8.3,"s":"μ=6"},{"T":0.84,"v":5.5,"s":"μ=6"},{"T":0.88,"v":4.0,"s":"μ=6"},{"T":0.93,"v":5.2,"s":"μ=6"},{"T":1.0,"v":5.3,"s":"μ=6"},{"T":1.05,"v":5.8,"s":"μ=6"},{"T":1.12,"v":6.15,"s":"μ=6"},{"T":1.18,"v":6.0,"s":"μ=6"},{"T":1.25,"v":5.2,"s":"μ=6"},{"T":1.3,"v":4.4,"s":"μ=6"},{"T":1.35,"v":3.9,"s":"μ=6"},{"T":1.45,"v":3.8,"s":"μ=6"},{"T":1.5,"v":3.6,"s":"μ=6"},{"T":1.55,"v":3.35,"s":"μ=6"},{"T":1.62,"v":3.3,"s":"μ=6"},{"T":1.67,"v":3.8,"s":"μ=6"},{"T":1.73,"v":5.2,"s":"μ=6"},{"T":1.8,"v":7.0,"s":"μ=6"},{"T":1.87,"v":8.1,"s":"μ=6"},{"T":1.95,"v":8.05,"s":"μ=6"},{"T":2.03,"v":7.9,"s":"μ=6"},{"T":2.08,"v":7.4,"s":"μ=6"},{"T":2.15,"v":7.6,"s":"μ=6"},{"T":2.25,"v":7.7,"s":"μ=6"},{"T":2.35,"v":7.6,"s":"μ=6"},{"T":2.47,"v":7.35,"s":"μ=6"},{"T":2.55,"v":7.0,"s":"μ=6"},{"T":2.65,"v":7.05,"s":"μ=6"},{"T":2.72,"v":6.8,"s":"μ=6"},{"T":2.8,"v":6.2,"s":"μ=6"},{"T":2.9,"v":5.3,"s":"μ=6"},{"T":3.0,"v":4.2,"s":"μ=6"}
],
"a1": [
{"T":1.02,"v":0.457,"label":"Earthquake : San Fernando CA"},
{"T":1.02,"v":0.419,"label":"Date : 1971\u00a0\u00a002\u00a0\u00a009"},
{"T":1.02,"v":0.381,"label":"Magnitude : 6.6"},
{"T":1.02,"v":0.343,"label":"Station : 127 Lake Hughes #9"},
{"T":1.02,"v":0.304,"label":"Site Geology : Gneiss"},
{"T":1.02,"v":0.266,"label":"Epicentral Distance : 26.7 (km)"},
{"T":1.02,"v":0.228,"label":"PGA : 153.9 cm/sec/sec"},
{"T":1.02,"v":0.189,"label":"Note : AB157"}
],
"a3": [
{"T":1.02,"v":1.303,"label":"Earthquake : Chi Chi Taiwan"},
{"T":1.02,"v":1.188,"label":"Date : 1999\u00a0\u00a009\u00a0\u00a020"},
{"T":1.02,"v":1.081,"label":"Magnitude : 7.6"},
{"T":1.02,"v":0.977,"label":"Station : CWB station TCU047"},
{"T":1.02,"v":0.868,"label":"Site Geology : S_C (1997 UBC)"},
{"T":1.02,"v":0.76,"label":"Epicentral Distance : 85.2 (km)"},
{"T":1.02,"v":0.651,"label":"PGA : 404.7 cm/sec/sec"},
{"T":1.02,"v":0.542,"label":"Note : C063"}
]
},
"columns": 2,
"spacing": {"row": 44, "column": 116},
"align": "each",
"resolve": {"scale": {"x": "independent", "y": "independent", "color": "independent", "strokeDash": "independent"}, "legend": {"color": "independent", "strokeDash": "independent"}},
"concat": [
{
 "width": 383, "height": 235,
 "layer": [
  {"data": {"values": [{}]}, "mark": {"type": "rect", "filled": false, "stroke": "#444", "strokeWidth": 1}, "encoding": {"x": {"datum": -0.517}, "x2": {"datum": 3.188}, "y": {"datum": 0.5383}, "y2": {"datum": -0.1277}}},
  {"data": {"name": "p1"}, "mark": "line", "encoding": {
    "x": {"field": "T", "type": "quantitative", "scale": {"domain": [0, 3], "nice": false, "zero": false}, "axis": {"values": [0, 0.5, 1, 1.5, 2, 2.5, 3], "format": "~r", "title": "Period (sec)", "labelPadding": 15, "titlePadding": 9}},
    "y": {"field": "v", "type": "quantitative", "scale": {"domain": [0, 0.5], "nice": false, "zero": false}, "axis": {"values": [0, 0.1, 0.2, 0.3, 0.4, 0.5], "format": "~r", "title": "Seismic Coefficient (Cy)", "labelPadding": 11, "titlePadding": 8, "gridDash": [3, 2]}},
    "color": {"field": "s", "type": "nominal", "scale": {"domain": ["μ=1", "μ=2", "μ=3", "μ=4", "μ=5", "μ=6"], "range": ["#000", "#222", "#666", "#222", "#444", "#333"]}, "legend": {"orient": "none", "legendX": 129, "legendY": 164, "columns": 3, "direction": "horizontal", "title": null, "columnPadding": 28}},
    "strokeDash": {"field": "s", "type": "nominal", "scale": {"domain": ["μ=1", "μ=2", "μ=3", "μ=4", "μ=5", "μ=6"], "range": [[1, 0], [6, 2, 1.5, 2, 1.5, 2], [5, 2, 1.5, 2], [1.5, 2], [5, 3], [1, 0]]}, "legend": {"orient": "none", "legendX": 129, "legendY": 164, "columns": 3, "direction": "horizontal", "title": null, "columnPadding": 28}}
  }},
  {"data": {"name": "a1"}, "mark": {"type": "point", "shape": "diamond", "filled": true, "color": "#111", "size": 120, "opacity": 1}, "encoding": {"x": {"field": "T", "type": "quantitative"}, "y": {"field": "v", "type": "quantitative"}}},
  {"data": {"name": "a1"}, "mark": {"type": "text", "align": "left", "baseline": "middle", "dx": 12, "fontSize": 14, "fontWeight": "bold", "color": "#111"}, "encoding": {"x": {"field": "T", "type": "quantitative"}, "y": {"field": "v", "type": "quantitative"}, "text": {"field": "label"}}}
 ]
},
{
 "width": 365, "height": 223,
 "layer": [
  {"data": {"values": [{}]}, "mark": {"type": "rect", "filled": false, "stroke": "#444", "strokeWidth": 1}, "encoding": {"x": {"datum": -0.5589}, "x2": {"datum": 3.230}, "y": {"datum": 15.193}, "y2": {"datum": -4.457}}},
  {"data": {"name": "p2"}, "mark": "line", "encoding": {
    "x": {"field": "T", "type": "quantitative", "scale": {"domain": [0, 3], "nice": false, "zero": false}, "axis": {"values": [0, 0.5, 1, 1.5, 2, 2.5, 3], "format": "~r", "title": "Period (sec)", "labelPadding": 13, "titlePadding": 12}},
    "y": {"field": "v", "type": "quantitative", "scale": {"domain": [0, 14], "nice": false, "zero": false}, "axis": {"values": [0, 2, 4, 6, 8, 10, 12, 14], "format": "~r", "title": "Ductility Factor (Rμ)", "labelPadding": 11, "titlePadding": 14, "gridDash": [3, 2]}},
    "color": {"field": "s", "type": "nominal", "scale": {"domain": ["μ=2", "μ=3", "μ=4", "μ=5", "μ=6"], "range": ["#000", "#444", "#333", "#777", "#111"]}, "legend": {"orient": "none", "legendX": 9, "legendY": 199, "columns": 5, "direction": "horizontal", "title": null, "columnPadding": 23}},
    "strokeDash": {"field": "s", "type": "nominal", "scale": {"domain": ["μ=2", "μ=3", "μ=4", "μ=5", "μ=6"], "range": [[1, 0], [6, 2, 1.5, 2], [1.5, 2], [4, 3, 1.5, 3], [7, 2, 1.5, 2, 1.5, 2]]}, "legend": {"orient": "none", "legendX": 9, "legendY": 199, "columns": 5, "direction": "horizontal", "title": null, "columnPadding": 23}}
  }}
 ]
},
{
 "width": 382, "height": 236,
 "title": {"text": "(a) Inelastic response spectra", "orient": "bottom", "anchor": "middle", "frame": "bounds", "font": "DejaVu Sans", "fontSize": 16, "fontWeight": "normal", "color": "#222", "offset": 24},
 "layer": [
  {"data": {"values": [{}]}, "mark": {"type": "rect", "filled": false, "stroke": "#444", "strokeWidth": 1}, "encoding": {"x": {"datum": -0.5183}, "x2": {"datum": 3.196}, "y": {"datum": 1.5186}, "y2": {"datum": -0.3559}}},
  {"data": {"name": "p3"}, "mark": "line", "encoding": {
    "x": {"field": "T", "type": "quantitative", "scale": {"domain": [0, 3], "nice": false, "zero": false}, "axis": {"values": [0, 0.5, 1, 1.5, 2, 2.5, 3], "format": "~r", "title": "Period (sec)", "labelPadding": 15, "titlePadding": 9}},
    "y": {"field": "v", "type": "quantitative", "scale": {"domain": [0, 1.4], "nice": false, "zero": false}, "axis": {"values": [0, 0.2, 0.4, 0.6, 0.8, 1, 1.2, 1.4], "format": "~r", "title": "Seismic Coefficient (Cy)", "labelPadding": 11, "titlePadding": 7}},
    "color": {"field": "s", "type": "nominal", "scale": {"domain": ["μ=1", "μ=2", "μ=3", "μ=4", "μ=5", "μ=6"], "range": ["#000", "#222", "#666", "#222", "#444", "#333"]}, "legend": {"orient": "none", "legendX": 152, "legendY": 156, "columns": 3, "direction": "horizontal", "title": null, "columnPadding": 23}},
    "strokeDash": {"field": "s", "type": "nominal", "scale": {"domain": ["μ=1", "μ=2", "μ=3", "μ=4", "μ=5", "μ=6"], "range": [[1, 0], [6, 2, 1.5, 2, 1.5, 2], [5, 2, 1.5, 2], [1.5, 2], [5, 3], [1, 0]]}, "legend": {"orient": "none", "legendX": 152, "legendY": 156, "columns": 3, "direction": "horizontal", "title": null, "columnPadding": 23}}
  }},
  {"data": {"name": "a3"}, "mark": {"type": "point", "shape": "diamond", "filled": true, "color": "#111", "size": 120, "opacity": 1}, "encoding": {"x": {"field": "T", "type": "quantitative"}, "y": {"field": "v", "type": "quantitative"}}},
  {"data": {"name": "a3"}, "mark": {"type": "text", "align": "left", "baseline": "middle", "dx": 12, "fontSize": 14, "fontWeight": "bold", "color": "#111"}, "encoding": {"x": {"field": "T", "type": "quantitative"}, "y": {"field": "v", "type": "quantitative"}, "text": {"field": "label"}}}
 ]
},
{
 "width": 366, "height": 228,
 "title": {"text": "(b) Ductility factor", "orient": "bottom", "anchor": "middle", "frame": "bounds", "font": "DejaVu Sans", "fontSize": 16, "fontWeight": "normal", "color": "#222", "offset": 24},
 "layer": [
  {"data": {"values": [{}]}, "mark": {"type": "rect", "filled": false, "stroke": "#444", "strokeWidth": 1}, "encoding": {"x": {"datum": -0.5492}, "x2": {"datum": 3.2295}, "y": {"datum": 10.877}, "y2": {"datum": -2.982}}},
  {"data": {"name": "p4"}, "mark": "line", "encoding": {
    "x": {"field": "T", "type": "quantitative", "scale": {"domain": [0, 3], "nice": false, "zero": false}, "axis": {"values": [0, 0.5, 1, 1.5, 2, 2.5, 3], "format": "~r", "title": "Period (sec)", "labelPadding": 15, "titlePadding": 14}},
    "y": {"field": "v", "type": "quantitative", "scale": {"domain": [0, 10], "nice": false, "zero": false}, "axis": {"values": [0, 2, 4, 6, 8, 10], "format": "~r", "title": "Ductility Factor (Rμ)", "labelPadding": 11, "titlePadding": 11}},
    "color": {"field": "s", "type": "nominal", "scale": {"domain": ["μ=2", "μ=3", "μ=4", "μ=5", "μ=6"], "range": ["#000", "#444", "#333", "#777", "#111"]}, "legend": {"orient": "none", "legendX": 9, "legendY": 194, "columns": 5, "direction": "horizontal", "title": null, "columnPadding": 23}},
    "strokeDash": {"field": "s", "type": "nominal", "scale": {"domain": ["μ=2", "μ=3", "μ=4", "μ=5", "μ=6"], "range": [[1, 0], [6, 2, 1.5, 2], [1.5, 2], [4, 3, 1.5, 3], [7, 2, 1.5, 2, 1.5, 2]]}, "legend": {"orient": "none", "legendX": 9, "legendY": 194, "columns": 5, "direction": "horizontal", "title": null, "columnPadding": 23}}
  }}
 ]
}
]
}
